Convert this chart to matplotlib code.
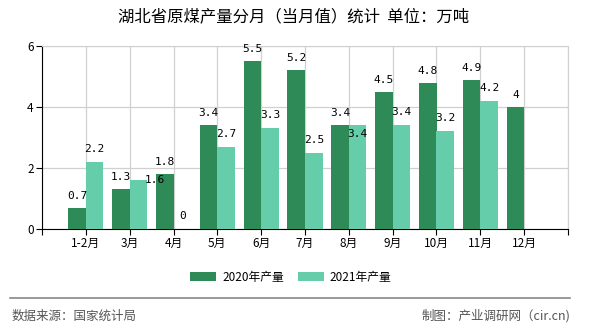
import matplotlib
matplotlib.use('Agg')
import matplotlib.pyplot as plt
import numpy as np

plt.rcParams['font.family'] = ['Noto Sans CJK SC', 'DejaVu Sans']

months = ['1-2月', '3月', '4月', '5月', '6月', '7月', '8月', '9月', '10月', '11月', '12月']
prod_2020 = [0.7, 1.3, 1.8, 3.4, 5.5, 5.2, 3.4, 4.5, 4.8, 4.9, 4.0]
prod_2021 = [2.2, 1.6, 0, 2.7, 3.3, 2.5, 3.4, 3.4, 3.2, 4.2, None]
label_2020 = ['0.7', '1.3', '1.8', '3.4', '5.5', '5.2', '3.4', '4.5', '4.8', '4.9', '4']
label_2021 = ['2.2', '1.6', '0', '2.7', '3.3', '2.5', '3.4', '3.4', '3.2', '4.2', '']

dark = '#2e8b57'
light = '#66cdaa'

fig = plt.figure(figsize=(5.9, 3.3), dpi=100)
ax = fig.add_axes([42/590, 101/330, 526/590, 183/330])

x = np.arange(1, len(months) + 1)
w = 0.4
ax.bar(x - w/2, prod_2020, w, color=dark, label='2020年产量', zorder=3)
v21 = [np.nan if v is None else v for v in prod_2021]
ax.bar(x + w/2, v21, w, color=light, label='2021年产量', zorder=3)

# value labels (echarts nudges a couple of the 2021 ones to avoid overlap)
nudge_21 = {1: (16, -13), 6: (0, -22)}
for i in range(len(months)):
    ax.annotate(label_2020[i], (x[i] - w/2, prod_2020[i]), xytext=(0, 12),
                textcoords='offset pixels', ha='center', va='center',
                fontsize=8, family='DejaVu Sans Mono', zorder=4)
    if prod_2021[i] is not None:
        dx, dy = nudge_21.get(i, (0, 0))
        ax.annotate(label_2021[i], (x[i] + w/2, prod_2021[i]),
                    xytext=(dx, 13 + dy),
                    textcoords='offset pixels', ha='center', va='center',
                    fontsize=8, family='DejaVu Sans Mono', zorder=4)

ax.set_xlim(0, 12)
ax.set_ylim(0, 6)
ax.set_xticks(np.arange(0, 13))
ax.set_xticklabels([''] + months + [''], fontsize=8.5)
ax.set_yticks([0, 2, 4, 6])
ax.set_yticklabels(['0', '2', '4', '6'], fontsize=8.5)
ax.grid(True, color='#d0d0d0', linewidth=0.9, zorder=0)
for s in ['top', 'right']:
    ax.spines[s].set_color('#d0d0d0')
for s in ['left', 'bottom']:
    ax.spines[s].set_color('black')
ax.tick_params(axis='both', length=4, width=0.8, pad=2)

fig.text(294/590, 1 - 17/330, '湖北省原煤产量分月（当月值）统计  单位：万吨',
         ha='center', va='center', fontsize=11.8)

leg = fig.legend(loc='center', bbox_to_anchor=(291/590, 1 - 277/330), ncol=2,
                 frameon=False, fontsize=8.5, handlelength=2.2, handleheight=0.9,
                 columnspacing=1.2, handletextpad=0.5)

fig.add_artist(plt.Line2D([10/590, 570/590], [1 - 298/330, 1 - 298/330],
                          color='#888888', linewidth=1.2))
fig.text(12/590, 1 - 316/330, '数据来源：国家统计局', ha='left', va='center',
         fontsize=9, color='#555555')
fig.text(570/590, 1 - 316/330, '制图：产业调研网（cir.cn)', ha='right', va='center',
         fontsize=9, color='#555555')

fig.savefig('out.png', dpi=100)
